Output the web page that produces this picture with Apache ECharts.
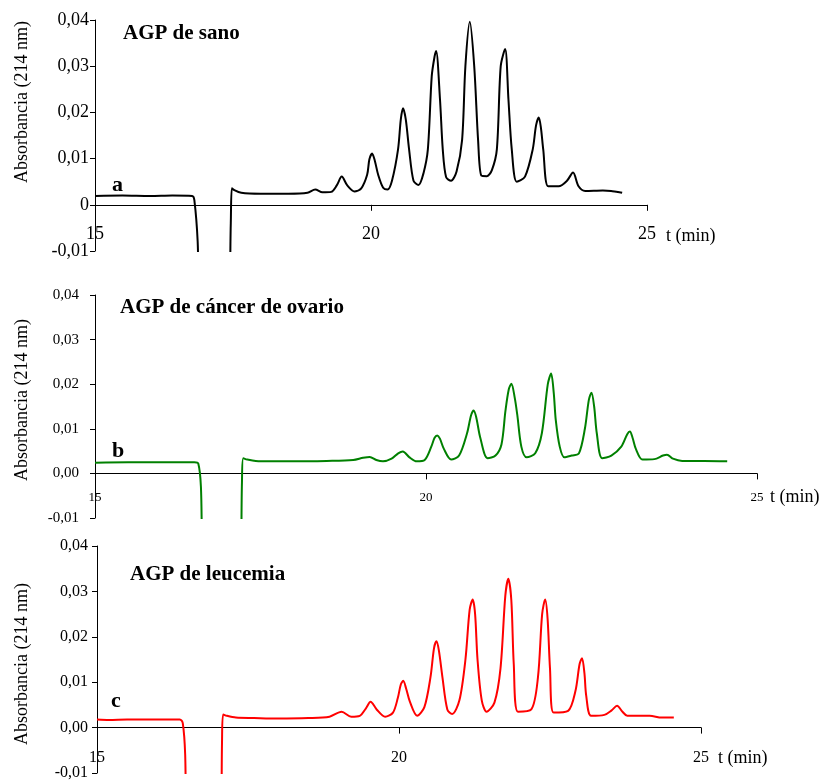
<!DOCTYPE html>
<html>
<head>
    <meta charset="utf-8">
    <title>AGP electroferogramas</title>
    <script src="https://cdn.jsdelivr.net/npm/echarts/dist/echarts.min.js"></script>
    <style>
        html, body { margin: 0; background: #fff; }
        #chart1 { width: 835px; height: 780px; }
    </style>
</head>
<body>
<div id="chart1"></div>
<script type="text/javascript">
    var tA = [15.00, 15.50, 16.00, 16.40, 16.76, 16.80, 16.86, 16.92, 17.40, 17.46, 17.48, 17.52, 17.65, 18.00, 18.50, 18.85,
        18.99, 19.12, 19.28, 19.38, 19.47, 19.57, 19.70, 19.82, 19.93, 19.97, 20.02, 20.07, 20.13, 20.22, 20.30, 20.38,
        20.49, 20.54, 20.58, 20.63, 20.69, 20.77, 20.86, 20.95, 21.03, 21.10, 21.15, 21.18, 21.25, 21.30, 21.36, 21.45,
        21.55, 21.65, 21.71, 21.79, 21.87, 21.94, 22.00, 22.10, 22.19, 22.28, 22.35, 22.43, 22.49, 22.55, 22.64, 22.79,
        22.93, 22.99, 23.04, 23.08, 23.12, 23.21, 23.40, 23.55, 23.66, 23.76, 23.88, 24.20, 24.35, 24.55];
    var absA = [0.0019, 0.0020, 0.0019, 0.0020, 0.0019, 0.0010, -0.0080, -0.0300, -0.0300, -0.0040, 0.0036, 0.0032, 0.0026, 0.0024, 0.0024, 0.0026,
        0.0033, 0.0027, 0.0028, 0.0042, 0.0061, 0.0042, 0.0029, 0.0035, 0.0065, 0.0098, 0.0111, 0.0095, 0.0065, 0.0037, 0.0033, 0.0052,
        0.0120, 0.0185, 0.0209, 0.0185, 0.0120, 0.0052, 0.0043, 0.0068, 0.0120, 0.0278, 0.0320, 0.0333, 0.0228, 0.0120, 0.0060, 0.0052,
        0.0072, 0.0140, 0.0300, 0.0396, 0.0300, 0.0140, 0.0063, 0.0062, 0.0075, 0.0120, 0.0300, 0.0337, 0.0228, 0.0120, 0.0050, 0.0061,
        0.0120, 0.0172, 0.0189, 0.0165, 0.0120, 0.0040, 0.0040, 0.0052, 0.0070, 0.0040, 0.0030, 0.0031, 0.0030, 0.0026];

    // panel b (cáncer de ovario)
    var tB = [15.00, 15.50, 16.00, 16.50, 16.56, 16.60, 16.66, 17.18, 17.22, 17.24, 17.30, 17.50, 18.00, 18.50, 18.90, 19.05,
        19.15, 19.25, 19.35, 19.48, 19.58, 19.65, 19.75, 19.86, 19.98, 20.08, 20.13, 20.17, 20.21, 20.27, 20.38, 20.50,
        20.62, 20.68, 20.72, 20.76, 20.82, 20.93, 21.05, 21.14, 21.20, 21.25, 21.29, 21.34, 21.38, 21.44, 21.52, 21.65,
        21.75, 21.84, 21.89, 21.93, 21.96, 22.02, 22.09, 22.20, 22.31, 22.40, 22.46, 22.50, 22.54, 22.58, 22.66, 22.80,
        22.95, 23.04, 23.08, 23.12, 23.17, 23.27, 23.45, 23.58, 23.64, 23.73, 23.87, 24.20, 24.55];
    var absB = [0.0024, 0.0025, 0.0025, 0.0025, 0.0022, -0.0030, -0.0300, -0.0300, -0.0020, 0.0034, 0.0031, 0.0027, 0.0027, 0.0028, 0.0030, 0.0035,
        0.0037, 0.0030, 0.0027, 0.0033, 0.0045, 0.0049, 0.0036, 0.0027, 0.0030, 0.0060, 0.0080, 0.0085, 0.0078, 0.0055, 0.0031, 0.0040,
        0.0090, 0.0130, 0.0141, 0.0125, 0.0080, 0.0034, 0.0040, 0.0065, 0.0140, 0.0188, 0.0201, 0.0170, 0.0130, 0.0060, 0.0036, 0.0045,
        0.0090, 0.0200, 0.0224, 0.0180, 0.0120, 0.0060, 0.0036, 0.0040, 0.0045, 0.0100, 0.0165, 0.0181, 0.0150, 0.0090, 0.0034, 0.0040,
        0.0060, 0.0088, 0.0094, 0.0080, 0.0055, 0.0031, 0.0032, 0.0040, 0.0042, 0.0033, 0.0028, 0.0028, 0.0027];

    // panel c (leucemia)
    var tC = [15.00, 15.20, 15.50, 16.00, 16.37, 16.42, 16.46, 16.50, 17.04, 17.07, 17.09, 17.15, 17.30, 17.60, 18.00, 18.50,
        18.85, 19.05, 19.21, 19.35, 19.45, 19.53, 19.63, 19.77, 19.90, 19.98, 20.03, 20.07, 20.12, 20.18, 20.30, 20.42,
        20.52, 20.58, 20.62, 20.66, 20.72, 20.80, 20.88, 21.00, 21.10, 21.17, 21.22, 21.26, 21.30, 21.37, 21.45, 21.58,
        21.68, 21.76, 21.81, 21.86, 21.90, 21.97, 22.19, 22.30, 22.37, 22.42, 22.46, 22.50, 22.56, 22.80, 22.92, 22.99,
        23.03, 23.07, 23.10, 23.18, 23.40, 23.52, 23.61, 23.70, 23.78, 24.15, 24.35, 24.55];
    var absC = [0.0018, 0.0017, 0.0018, 0.0018, 0.0018, 0.0010, -0.0060, -0.0300, -0.0300, -0.0030, 0.0029, 0.0026, 0.0022, 0.0021, 0.0020, 0.0021,
        0.0024, 0.0035, 0.0024, 0.0026, 0.0042, 0.0057, 0.0040, 0.0024, 0.0033, 0.0065, 0.0095, 0.0103, 0.0085, 0.0057, 0.0026, 0.0045,
        0.0110, 0.0175, 0.0190, 0.0170, 0.0110, 0.0040, 0.0030, 0.0060, 0.0150, 0.0260, 0.0282, 0.0250, 0.0150, 0.0060, 0.0035, 0.0055,
        0.0130, 0.0290, 0.0328, 0.0280, 0.0140, 0.0035, 0.0040, 0.0110, 0.0250, 0.0282, 0.0240, 0.0130, 0.0033, 0.0037, 0.0080, 0.0140,
        0.0153, 0.0120, 0.0070, 0.0026, 0.0028, 0.0038, 0.0048, 0.0035, 0.0026, 0.0026, 0.0022, 0.0022];

    var tMin = 15, tMax = 25, tStep = 5;
    var yMin = -0.01, yMax = 0.04, yStep = 0.01;

    var serif = '"Liberation Serif", "Times New Roman", serif';

    function pares(t, a) {
        var out = [];
        for (var i = 0; i < t.length; i++) out.push([t[i], a[i]]);
        return out;
    }
    function fmtCero(v) {
        if (Math.abs(v) < 1e-9) return '0';
        return v.toFixed(2).replace('.', ',');
    }
    function fmtDos(v) {
        if (Math.abs(v) < 1e-9) v = 0;
        return v.toFixed(2).replace('.', ',');
    }

    var paneles = [
        {grid: {left: 95, top: 20, width: 552, height: 231}, x: 18, xm: -26, y: 18, ym: 6, fmt: fmtCero, data: pares(tA, absA), color: '#000000'},
        {grid: {left: 95, top: 295, width: 662, height: 223}, x: 13, xm: -27, y: 15, ym: 16, fmt: fmtDos, data: pares(tB, absB), color: '#008000'},
        {grid: {left: 97, top: 546, width: 604, height: 227}, x: 16, xm: -23, y: 16, ym: 9, fmt: fmtDos, data: pares(tC, absC), color: '#ff0000'}
    ];

    var grids = [], xAxes = [], yAxes = [], series = [];
    paneles.forEach(function (p, i) {
        p.grid.containLabel = false;
        p.grid.outerBoundsMode = 'none';
        grids.push(p.grid);
        xAxes.push({
            type: 'value', gridIndex: i, min: tMin, max: tMax, interval: tStep,
            axisLine: {onZero: true, lineStyle: {color: '#000', width: 1}},
            axisTick: {show: true, length: 6, lineStyle: {color: '#000'}},
            axisLabel: {color: '#000', fontFamily: serif, fontSize: p.x, margin: p.xm},
            splitLine: {show: false}
        });
        yAxes.push({
            type: 'value', gridIndex: i, min: yMin, max: yMax, interval: yStep,
            axisLine: {show: true, onZero: false, lineStyle: {color: '#000', width: 1}},
            axisTick: {show: true, length: 5, lineStyle: {color: '#000'}},
            axisLabel: {color: '#000', fontFamily: serif, fontSize: p.y, margin: p.ym, formatter: p.fmt},
            splitLine: {show: false}
        });
        series.push({
            type: 'line', xAxisIndex: i, yAxisIndex: i, data: p.data,
            showSymbol: false, smooth: 0.3, clip: true,
            lineStyle: {color: p.color, width: 2}
        });
    });

    function texto(txt, x, y, font, rot) {
        return {
            type: 'text', x: x, y: y, rotation: rot || 0,
            style: {text: txt, font: font, fill: '#000', textAlign: rot ? 'center' : 'left', textVerticalAlign: 'middle'}
        };
    }

    var graficos = [
        texto('Absorbancia (214 nm)', 22, 102, '18px ' + serif, Math.PI / 2),
        texto('Absorbancia (214 nm)', 22, 400, '18px ' + serif, Math.PI / 2),
        texto('Absorbancia (214 nm)', 22, 664, '18px ' + serif, Math.PI / 2),
        texto('AGP de sano', 123, 34, 'bold 21px ' + serif),
        texto('AGP de cáncer de ovario', 120, 308, 'bold 21px ' + serif),
        texto('AGP de leucemia', 130, 575, 'bold 21px ' + serif),
        texto('a', 112, 185, 'bold 22px ' + serif),
        texto('b', 112, 451, 'bold 22px ' + serif),
        texto('c', 111, 701, 'bold 22px ' + serif),
        texto('t (min)', 666, 236, '18px ' + serif),
        texto('t (min)', 770, 497, '18px ' + serif),
        texto('t (min)', 718, 758, '18px ' + serif)
    ];

    var myChart1 = echarts.init(document.getElementById('chart1'));
    myChart1.setOption({
        animation: false,
        backgroundColor: '#fff',
        grid: grids,
        xAxis: xAxes,
        yAxis: yAxes,
        series: series,
        graphic: graficos
    });
</script>
</body>
</html>
